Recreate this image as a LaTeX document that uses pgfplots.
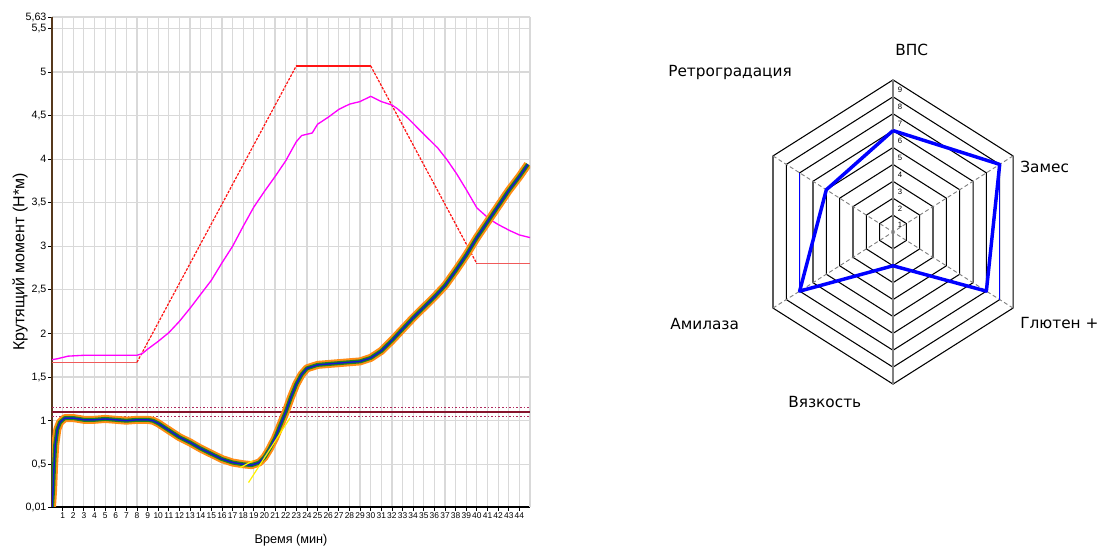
\documentclass[border=0pt]{standalone}
\usepackage{pgfplots}
\pgfplotsset{compat=1.18}
\usepackage{fontspec}
\setmainfont{Liberation Sans}
\newfontfamily\dejavu{DejaVu Sans}
\definecolor{torqorange}{RGB}{255,140,20}
\definecolor{torqgreen}{RGB}{30,130,30}
\definecolor{torqblue}{RGB}{20,20,210}
\definecolor{refmaroon}{RGB}{135,20,45}
\definecolor{refdot}{RGB}{175,45,95}
\definecolor{tempred}{RGB}{255,20,20}
\definecolor{lightred}{RGB}{240,90,90}
\definecolor{prodmag}{RGB}{255,0,255}
\definecolor{radblue}{RGB}{0,0,255}
\begin{document}
\begin{tikzpicture}
\useasboundingbox (0,0) rectangle (823.5pt,411.75pt);
% ---------------- left chart ----------------
\begin{axis}[
  at={(39pt,31.5pt)}, anchor=south west,
  scale only axis, width=358.5pt, height=367.5pt,
  xmin=0, xmax=45, ymin=0.01, ymax=5.63,
  axis x line=bottom, axis y line=left,
  axis line style={-, line width=0.8pt},
  y axis line style={draw=brown!45!black},
  xtick={1,...,44},
  extra x ticks={45}, extra x tick labels={}, extra x tick style={major tick length=0pt},
  ytick={0.01,0.5,1,1.5,2,2.5,3,3.5,4,4.5,5,5.5,5.63},
  yticklabels={{0,01},{0,5},{1},{1,5},{2},{2,5},{3},{3,5},{4},{4,5},{5},{5,5},{5,63}},
  grid=major, major grid style={draw=black!15, line width=0.9pt},
  tick align=outside, major tick length=3pt, tick style={black, line width=0.6pt},
  xticklabel style={font=\fontsize{6.3}{7}\selectfont, inner sep=1pt},
  yticklabel style={font=\fontsize{8}{9}\selectfont, inner sep=1pt},
  /pgf/number format/assume math mode=true,
  xlabel={Время (мин)},
  xlabel style={font=\fontsize{9.5}{11}\selectfont, at={(axis description cs:0.5,-0.0673)}, anchor=center},
  ylabel={Крутящий момент (Н*м)},
  ylabel style={font=\fontsize{12}{14}\selectfont, at={(axis description cs:-0.067,0.5)}, anchor=center},
]
% target band
\addplot[refdot, line width=1pt, dash pattern=on 1.2pt off 1.5pt] coordinates {(0,1.15) (45,1.15)};
\addplot[refdot, line width=1pt, dash pattern=on 1.2pt off 1.5pt] coordinates {(0,1.05) (45,1.05)};
\addplot[refmaroon, line width=1.1pt] coordinates {(0,1.1) (45,1.1)};
% temperature profile (set)
\addplot[lightred, line width=0.7pt] coordinates {(0,1.67) (8,1.67)};
\addplot[tempred, line width=0.9pt, dash pattern=on 2pt off 1pt] coordinates {(8,1.67) (23,5.07)};
\addplot[tempred, line width=1.4pt] coordinates {(23,5.07) (30,5.07)};
\addplot[tempred, line width=0.9pt, dash pattern=on 2pt off 1pt] coordinates {(30,5.07) (40,2.80)};
\addplot[lightred, line width=0.7pt] coordinates {(40,2.80) (45,2.80)};
% product temperature
\addplot[prodmag, line width=1pt] coordinates {
(0,1.70) (0.5,1.71) (1.5,1.74) (3,1.75) (5,1.75) (8,1.75) (8.5,1.77) (9,1.82)
(10,1.91) (11,2.01) (12,2.14) (13,2.29) (14,2.45) (15,2.61) (16,2.81) (17,3.00)
(18,3.23) (19,3.45) (20,3.63) (21,3.80) (22,3.98) (23,4.20) (23.5,4.27) (24.5,4.30)
(25,4.40) (26,4.48) (27,4.57) (28,4.63) (29,4.66) (30,4.72) (31,4.66) (32,4.62)
(32.5,4.58) (33.5,4.47) (34.4,4.36) (35.3,4.25) (36.3,4.13) (37.2,3.99) (38.1,3.83)
(39,3.65) (40,3.44) (41.2,3.31) (42,3.25) (43.1,3.18) (44,3.13) (45,3.10)};
% torque curve (three overlaid traces)
\addplot[torqorange, line width=6pt, line join=round] coordinates {
(0,0.01) (0.1,0.2) (0.2,0.5) (0.3,0.72) (0.5,0.9) (0.75,0.98) (1.2,1.03) (2,1.03)
(3,1.01) (4,1.01) (5,1.02) (6,1.01) (7,1.0) (8,1.01) (9,1.01) (9.5,1.0) (10,0.97)
(11,0.89) (12,0.81) (13,0.75) (14,0.68) (15,0.62) (16,0.56) (17,0.52) (18,0.50)
(18.8,0.49) (19.5,0.52) (20,0.58) (20.5,0.68) (21,0.80) (21.5,0.95) (22,1.10)
(22.5,1.27) (23,1.42) (23.5,1.53) (24,1.60) (25,1.64) (26,1.65) (27,1.66) (28,1.67)
(29,1.68) (30,1.72) (31,1.80) (32,1.92) (33,2.05) (34,2.18) (35,2.30) (36,2.42)
(37,2.55) (38,2.72) (39,2.90) (40,3.10) (41,3.28) (42,3.46) (43,3.64) (44,3.80) (44.8,3.94)};
\addplot[torqgreen, line width=3pt, line join=round] coordinates {
(0,0.01) (0.1,0.2) (0.2,0.5) (0.3,0.72) (0.5,0.9) (0.75,0.98) (1.2,1.03) (2,1.03)
(3,1.01) (4,1.01) (5,1.02) (6,1.01) (7,1.0) (8,1.01) (9,1.01) (9.5,1.0) (10,0.97)
(11,0.89) (12,0.81) (13,0.75) (14,0.68) (15,0.62) (16,0.56) (17,0.52) (18,0.50)
(18.8,0.49) (19.5,0.52) (20,0.58) (20.5,0.68) (21,0.80) (21.5,0.95) (22,1.10)
(22.5,1.27) (23,1.42) (23.5,1.53) (24,1.60) (25,1.64) (26,1.65) (27,1.66) (28,1.67)
(29,1.68) (30,1.72) (31,1.80) (32,1.92) (33,2.05) (34,2.18) (35,2.30) (36,2.42)
(37,2.55) (38,2.72) (39,2.90) (40,3.10) (41,3.28) (42,3.46) (43,3.64) (44,3.80) (44.8,3.94)};
\addplot[torqblue, line width=1.1pt, line join=round] coordinates {
(0,0.01) (0.1,0.2) (0.2,0.5) (0.3,0.72) (0.5,0.9) (0.75,0.98) (1.2,1.03) (2,1.03)
(3,1.01) (4,1.01) (5,1.02) (6,1.01) (7,1.0) (8,1.01) (9,1.01) (9.5,1.0) (10,0.97)
(11,0.89) (12,0.81) (13,0.75) (14,0.68) (15,0.62) (16,0.56) (17,0.52) (18,0.50)
(18.8,0.49) (19.5,0.52) (20,0.58) (20.5,0.68) (21,0.80) (21.5,0.95) (22,1.10)
(22.5,1.27) (23,1.42) (23.5,1.53) (24,1.60) (25,1.64) (26,1.65) (27,1.66) (28,1.67)
(29,1.68) (30,1.72) (31,1.80) (32,1.92) (33,2.05) (34,2.18) (35,2.30) (36,2.42)
(37,2.55) (38,2.72) (39,2.90) (40,3.10) (41,3.28) (42,3.46) (43,3.64) (44,3.80) (44.8,3.94)};
% tangent (yellow)
\addplot[yellow, line width=0.9pt] coordinates {(18.5,0.29) (22.4,1.03)};
\addplot[yellow, line width=0.9pt] coordinates {(17.7,0.46) (18.9,0.54)};
\end{axis}
% ---------------- radar chart ----------------
\begin{axis}[
  at={(669.75pt,237.75pt)}, anchor=center,
  x=11.55pt, y=12.675pt,
  xmin=-10, xmax=10, ymin=-10, ymax=10,
  hide axis, clip=false,
]
\pgfplotsinvokeforeach{1,...,9}{
  \addplot[black, line width=0.8pt, data cs=polar] coordinates {(90,#1) (30,#1) (-30,#1) (-90,#1) (-150,#1) (150,#1) (90,#1)};
}
\addplot[gray, line width=0.9pt, data cs=polar] coordinates {(90,9) (-90,9)};
\addplot[gray, line width=0.7pt, densely dashed, data cs=polar] coordinates {(30,9) (30,0)};
\addplot[gray, line width=0.7pt, densely dashed, data cs=polar] coordinates {(-30,9) (-30,0)};
\addplot[gray, line width=0.7pt, densely dashed, data cs=polar] coordinates {(150,9) (150,0)};
\addplot[gray, line width=0.7pt, densely dashed, data cs=polar] coordinates {(-150,9) (-150,0)};
\addplot[radblue, line width=0.8pt, data cs=polar] coordinates {(150,7) (-150,7)};
\addplot[radblue, line width=0.8pt, data cs=polar] coordinates {(30,8) (-30,8)};
\addplot[radblue, line width=2.6pt, line join=round, data cs=polar] coordinates {(90,6) (30,8) (-30,7) (-90,2) (-150,7) (150,5) (90,6)};
\node[font=\fontsize{5.8}{6}\selectfont, inner sep=0pt] at (axis cs:0.45,0.4) {1};
\node[font=\fontsize{5.8}{6}\selectfont, inner sep=0pt] at (axis cs:0.45,1.4) {2};
\node[font=\fontsize{5.8}{6}\selectfont, inner sep=0pt] at (axis cs:0.45,2.4) {3};
\node[font=\fontsize{5.8}{6}\selectfont, inner sep=0pt] at (axis cs:0.45,3.4) {4};
\node[font=\fontsize{5.8}{6}\selectfont, inner sep=0pt] at (axis cs:0.45,4.4) {5};
\node[font=\fontsize{5.8}{6}\selectfont, inner sep=0pt] at (axis cs:0.45,5.4) {6};
\node[font=\fontsize{5.8}{6}\selectfont, inner sep=0pt] at (axis cs:0.45,6.4) {7};
\node[font=\fontsize{5.8}{6}\selectfont, inner sep=0pt] at (axis cs:0.45,7.4) {8};
\node[font=\fontsize{5.8}{6}\selectfont, inner sep=0pt] at (axis cs:0.45,8.4) {9};
\end{axis}
\begin{scope}[every node/.style={font=\dejavu\fontsize{11.5}{14}\selectfont, inner sep=0pt, anchor=west}]
\node at (671.25pt,374.25pt) {ВПС};
\node at (501pt,357pt) {Ретроградация};
\node at (765pt,286.5pt) {Замес};
\node at (765pt,169.5pt) {Глютен +};
\node at (502.5pt,168.75pt) {Амилаза};
\node at (591pt,110.25pt) {Вязкость};
\end{scope}
\end{tikzpicture}
\end{document}
